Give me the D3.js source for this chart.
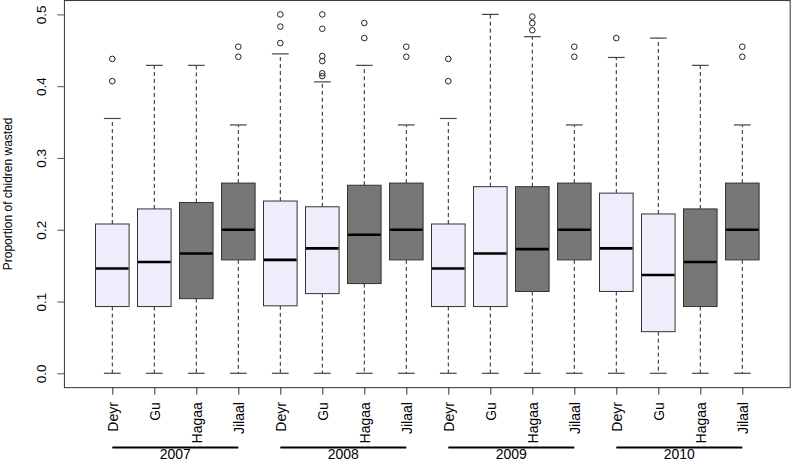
<!DOCTYPE html>
<html><head><meta charset="utf-8">
<script src="https://cdn.jsdelivr.net/npm/d3@7"></script>
<style>body{margin:0;background:#fff}svg{display:block}text{font-family:"Liberation Sans",Arial,sans-serif;fill:#000}</style>
</head><body><svg id="c" width="791" height="462"></svg>
<script>
const years = ["2007","2008","2009","2010"];
const seasons = ["Deyr","Gu","Hagaa","Jilaal"];
const yTicks = [0.0,0.1,0.2,0.3,0.4,0.5];
const whiskerLow = [0,0,0,0, 0,0,0,0, 0,0,0,0, 0,0,0,0];
const q1 =     [0.093,0.093,0.104,0.158, 0.094,0.111,0.125,0.158, 0.093,0.093,0.114,0.158, 0.114,0.058,0.093,0.158];
const median = [0.146,0.155,0.167,0.200, 0.158,0.174,0.193,0.200, 0.146,0.167,0.173,0.200, 0.174,0.137,0.155,0.200];
const q3 =     [0.208,0.229,0.238,0.265, 0.240,0.232,0.262,0.265, 0.208,0.260,0.260,0.265, 0.251,0.222,0.229,0.265];
const whiskerHigh = [0.355,0.429,0.429,0.346, 0.445,0.406,0.429,0.346, 0.355,0.500,0.469,0.346, 0.440,0.467,0.429,0.346];
const outliers = [
  [0.407,0.438],[],[],[0.441,0.455],
  [0.460,0.483,0.500],[0.414,0.418,0.435,0.442,0.480,0.500],[0.467,0.488],[0.441,0.455],
  [0.407,0.438],[],[0.478,0.488,0.497],[0.441,0.455],
  [0.467],[],[],[0.441,0.455]
];
const lightFill = "#EDEDFC", darkFill = "#777777";

const svg = d3.select("#c");
const n = years.length*seasons.length;
const x = d3.scaleLinear().domain([1, n]).range([112.3, 742.3]);
const y = d3.scaleLinear().domain([0, 0.5]).range([373.3, 14.4]);
const xMin = 0.5 - 0.04*n, xMax = n + 0.5 + 0.04*n;
const yMin = -0.02, yMax = 0.52;

const boxes = d3.range(n).map(i => ({
  i: i+1, year: years[Math.floor(i/seasons.length)], season: seasons[i%seasons.length],
  lo: whiskerLow[i], q1: q1[i], med: median[i], q3: q3[i], hi: whiskerHigh[i], out: outliers[i]
}));

const hw = 0.4, sw = 0.2;
const g = svg.append("g");
boxes.forEach(b => {
  const cx = x(b.i);
  g.append("line").attr("x1",cx).attr("x2",cx).attr("y1",y(b.q3)).attr("y2",y(b.hi))
    .attr("stroke","#222").attr("stroke-dasharray","4,3");
  g.append("line").attr("x1",cx).attr("x2",cx).attr("y1",y(b.q1)).attr("y2",y(b.lo))
    .attr("stroke","#222").attr("stroke-dasharray","4,3");
  [b.hi, b.lo].forEach(v => g.append("line").attr("x1",x(b.i-sw)).attr("x2",x(b.i+sw))
    .attr("y1",y(v)).attr("y2",y(v)).attr("stroke","#444").attr("stroke-width",1.2));
  const fill = (b.season==="Deyr"||b.season==="Gu") ? lightFill : darkFill;
  g.append("rect").attr("x",x(b.i-hw)).attr("width",x(b.i+hw)-x(b.i-hw))
    .attr("y",y(b.q3)).attr("height",y(b.q1)-y(b.q3))
    .attr("fill",fill).attr("stroke","#333").attr("stroke-width",1);
  g.append("line").attr("x1",x(b.i-hw)+0.5).attr("x2",x(b.i+hw)-0.5).attr("y1",y(b.med)).attr("y2",y(b.med))
    .attr("stroke","#000").attr("stroke-width",2.6);
  b.out.forEach(v => g.append("circle").attr("cx",cx).attr("cy",y(v)).attr("r",2.8)
    .attr("fill","none").attr("stroke","#222").attr("stroke-width",1));
});

svg.append("rect").attr("x",x(xMin)).attr("y",y(yMax)+0.5)
  .attr("width",x(xMax)-x(xMin)).attr("height",y(yMin)-y(yMax)-0.5)
  .attr("fill","none").attr("stroke","#333").attr("stroke-width",1);

const ya = svg.append("g").attr("transform",`translate(${x(xMin)},0)`)
  .call(d3.axisLeft(y).tickValues(yTicks).tickFormat(d3.format(".1f")).tickSize(7).tickSizeOuter(0));
ya.select(".domain").remove();
ya.selectAll(".tick line").attr("stroke","#555");
ya.selectAll(".tick text").attr("x",null).attr("dy",null)
  .attr("transform","translate(-18.5,0) rotate(-90)").attr("text-anchor","middle")
  .style("font-size","13.5px").attr("fill","#000");

const xa = svg.append("g").attr("transform",`translate(0,${y(yMin)})`)
  .call(d3.axisBottom(x).tickValues(boxes.map(b=>b.i)).tickFormat(i => boxes[i-1].season).tickSize(7).tickSizeOuter(0));
xa.select(".domain").remove();
xa.selectAll(".tick line").attr("stroke","#333");
xa.selectAll(".tick text").attr("y",null).attr("dy","0.36em")
  .attr("transform","translate(0,14.5) rotate(-90)").attr("text-anchor","end")
  .style("font-size","14px").attr("fill","#000");

years.forEach((yr, k) => {
  const a = k*seasons.length+1, bEnd = (k+1)*seasons.length;
  svg.append("line").attr("x1",x(a)).attr("x2",x(bEnd)).attr("y1",447.5).attr("y2",447.5)
    .attr("stroke","#000").attr("stroke-width",2);
  svg.append("text").attr("x",(x(a)+x(bEnd))/2).attr("y",459).attr("text-anchor","middle")
    .style("font-size","14px").text(yr);
});

svg.append("text").attr("transform",`translate(11.5,${(y(yMin)+y(yMax))/2}) rotate(-90)`)
  .attr("text-anchor","middle").style("font-size","12px").text("Proportion of chidren wasted");
</script></body></html>
